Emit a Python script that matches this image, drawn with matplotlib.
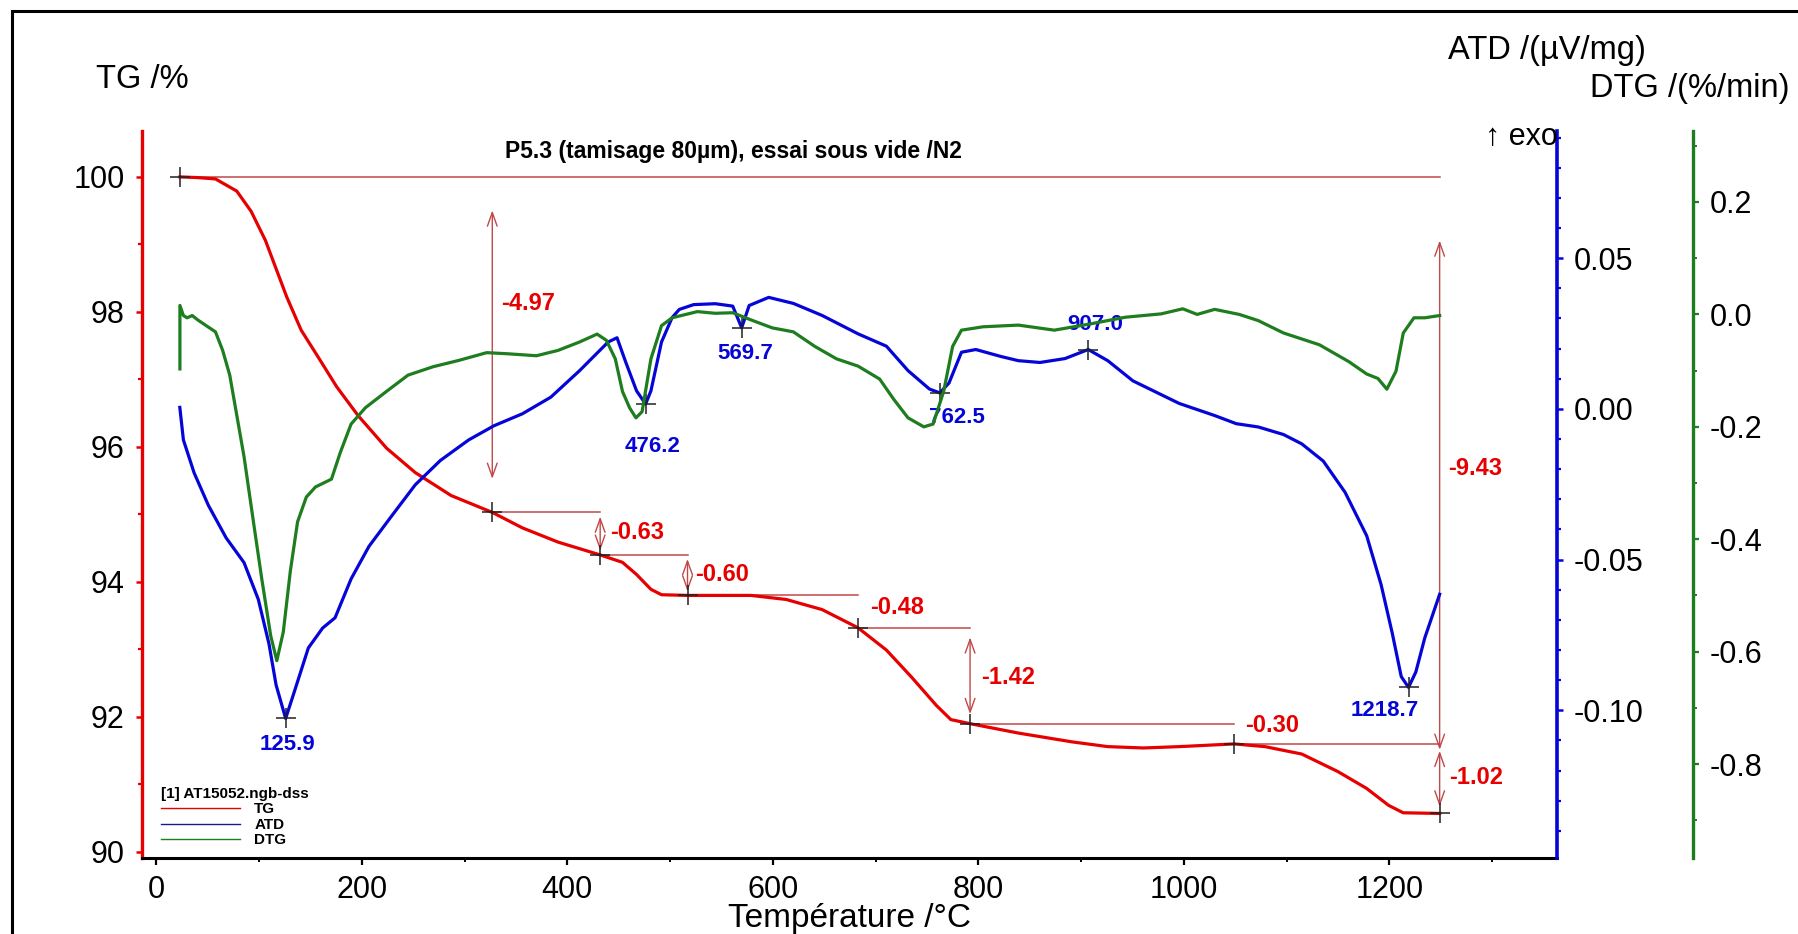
import matplotlib.pyplot as plt
from matplotlib.lines import Line2D
from matplotlib.patches import Rectangle
from matplotlib.ticker import MultipleLocator, FuncFormatter

plt.rcParams['font.family'] = ['Liberation Sans', 'DejaVu Sans']
plt.rcParams['axes.unicode_minus'] = False

# TG curve (%)
tg_temp = [23, 40, 57.6, 78.3, 92.3, 106.2, 116.6, 127, 141, 158.4, 175.6, 196.6, 224.2, 252,
           286.9, 327, 356.4, 391, 432, 453.7, 467.4, 481.4, 491.7, 517, 578.7, 613, 648, 683,
           710.6, 735, 759.2, 773.3, 792, 839.3, 891.4, 926, 960.6, 995.6, 1049, 1079, 1114.8,
           1150, 1178, 1199.3, 1213.5, 1249]
tg_val = [100.0, 99.99, 99.97, 99.79, 99.49, 99.06, 98.64, 98.22, 97.73, 97.31, 96.89, 96.46,
          95.98, 95.62, 95.28, 95.03, 94.80, 94.59, 94.40, 94.29, 94.11, 93.89, 93.81, 93.80,
          93.80, 93.74, 93.59, 93.32, 92.99, 92.59, 92.17, 91.96, 91.90, 91.76, 91.63, 91.56,
          91.54, 91.56, 91.60, 91.56, 91.45, 91.19, 90.94, 90.69, 90.58, 90.57]

# ATD curve (uV/mg)
atd_temp = [22.9, 26.4, 36.8, 50.7, 68, 85.4, 99.3, 109.7, 116.6, 125.9, 134, 148, 161.9, 174,
            189.6, 207, 227.8, 252, 276.5, 304, 328.6, 356.4, 384, 412, 439.8, 448.4, 457, 467.4,
            476.2, 481.4, 491.7, 502, 509, 523, 544, 561, 569.7, 577, 596, 620, 648, 683, 710.6,
            731.6, 752.4, 762.5, 771.5, 783.6, 797.6, 821.9, 839, 860, 884.4, 907, 926, 950.5,
            995.6, 1030, 1051, 1072.5, 1097, 1114.8, 1135.7, 1157, 1178, 1192, 1202.8, 1211.6,
            1218.7, 1225.8, 1234.5, 1249]
atd_val = [0.0005, -0.0103, -0.0212, -0.032, -0.0428, -0.051, -0.0632, -0.078, -0.0916, -0.1027,
           -0.0942, -0.0793, -0.0727, -0.0693, -0.0564, -0.0456, -0.0361, -0.0252, -0.0171,
           -0.0103, -0.0056, -0.0016, 0.0039, 0.0127, 0.0222, 0.0236, 0.0154, 0.006, 0.0016,
           0.006, 0.0222, 0.0303, 0.0330, 0.0346, 0.0349, 0.0341, 0.0269, 0.0343, 0.037, 0.035,
           0.031, 0.0249, 0.0208, 0.0127, 0.0066, 0.0053, 0.0086, 0.0188, 0.0197, 0.0174, 0.016,
           0.0154, 0.0167, 0.0197, 0.016, 0.0093, 0.0018, -0.0022, -0.0049, -0.006, -0.0085,
           -0.0116, -0.0173, -0.0277, -0.0421, -0.0583, -0.0743, -0.0888, -0.0924, -0.0873,
           -0.076, -0.0615]

# DTG curve (%/min)
dtg_temp = [23, 23, 26.4, 29.9, 35, 40.3, 49, 57.6, 64.6, 71.5, 78.4, 85.4, 94, 102.7, 111.4,
            117.3, 123.6, 130.5, 137.5, 146, 154.9, 170.5, 179, 189.6, 203.5, 224, 245, 269.5,
            294, 321.6, 342, 370, 391, 412, 429, 438, 446.7, 453.7, 460.6, 466.8, 472.8, 481.4,
            491.7, 502, 526.6, 544, 561, 578.7, 599.6, 620, 641, 662, 683, 704, 717.7, 731.6,
            747, 756, 766.3, 775, 783.6, 804.6, 839, 874, 908.7, 943, 978, 999, 1013, 1030,
            1054, 1072.5, 1097, 1132, 1160.6, 1178, 1189, 1197.6, 1206.5, 1213.6, 1224, 1234.6,
            1249]
dtg_val = [-0.097, 0.016, -0.002, -0.006, -0.002, -0.0097, -0.0205, -0.031, -0.064, -0.108,
           -0.180, -0.253, -0.362, -0.471, -0.572, -0.616, -0.565, -0.456, -0.369, -0.325,
           -0.307, -0.293, -0.246, -0.195, -0.166, -0.137, -0.108, -0.093, -0.082, -0.068,
           -0.070, -0.0735, -0.064, -0.049, -0.035, -0.046, -0.079, -0.137, -0.166, -0.184,
           -0.173, -0.079, -0.020, -0.006, 0.005, 0.002, 0.003, -0.0097, -0.024, -0.031,
           -0.057, -0.079, -0.092, -0.115, -0.151, -0.184, -0.200, -0.195, -0.137, -0.057,
           -0.028, -0.022, -0.019, -0.028, -0.017, -0.005, 0.001, 0.010, 0.000, 0.009,
           0.000, -0.011, -0.033, -0.054, -0.084, -0.106, -0.114, -0.133, -0.101, -0.033,
           -0.006, -0.006, -0.002]

# mass loss steps on TG
step_temp = [23, 327, 432, 517, 683, 792, 1049, 1249]
step_tg = [100.0, 95.03, 94.40, 93.80, 93.32, 91.90, 91.60, 90.57]
step_text = ['-4.97', '-0.63', '-0.60', '-0.48', '-1.42', '-0.30', '-1.02']
step_text_pos = [(335.5, 98.13), (441.5, 94.73), (524.8, 94.11), (695, 93.62),
                 (803, 92.59), (1060, 91.88), (1258, 91.10)]
step_arrow = [True, True, True, False, True, False, True]
total_text = '-9.43'
total_text_pos = (1257.5, 95.68)

# ATD peaks
peak_temp = [125.9, 476.2, 569.7, 762.5, 907.0, 1218.7]
peak_atd = [-0.1027, 0.0016, 0.0269, 0.0053, 0.0197, -0.0924]
peak_text_pos = [(128, -0.1115), (483, -0.0126), (573.5, 0.0184), (779.6, -0.0029),
                 (914, 0.0279), (1195.8, -0.1001)]

red = '#e60000'
blue = '#0505d8'
green = '#1e7d1e'
note = '#c04848'

W, H = 1798, 934
fig = plt.figure(figsize=(W / 100, H / 100), dpi=100)
ax = fig.add_axes([142 / W, 1 - 858 / H, 1415 / W, 727 / H])
ax2 = ax.twinx()
ax3 = ax.twinx()

ax.set_xlim(-13.9, 1363.2)
ax.set_ylim(89.91, 100.68)
ax2.set_ylim(-0.149, 0.0922)
ax3.set_ylim(-0.967, 0.3263)

ax.plot(tg_temp, tg_val, color=red, lw=2.3, zorder=3)
ax2.plot(atd_temp, atd_val, color=blue, lw=2.3)
ax3.plot(dtg_temp, dtg_val, color=green, lw=2.3)

# steps
ax.plot([step_temp[0], step_temp[-1]], [step_tg[0], step_tg[0]], color=note, lw=1.1, zorder=2)
for i in range(1, len(step_temp) - 1):
    ax.plot([step_temp[i], step_temp[i + 1]], [step_tg[i], step_tg[i]], color=note, lw=1.1,
            zorder=2)
for i in range(len(step_text)):
    x = step_temp[i + 1]
    y0, y1 = step_tg[i], step_tg[i + 1]
    d = 0.1 * (y0 - y1)
    if step_arrow[i]:
        ax.annotate('', xy=(x, y1 + d), xytext=(x, y0 - d),
                    arrowprops=dict(arrowstyle='<->,head_length=0.7,head_width=0.25',
                                    color=note, lw=1.0, shrinkA=0, shrinkB=0,
                                    mutation_scale=14))
    ax.text(step_text_pos[i][0], step_text_pos[i][1], step_text[i], color=red,
            fontsize=17, fontweight='bold', ha='left', va='center')
d = 0.1 * (step_tg[0] - step_tg[-1])
ax.annotate('', xy=(step_temp[-1], step_tg[-1] + d), xytext=(step_temp[-1], step_tg[0] - d),
            arrowprops=dict(arrowstyle='<->,head_length=0.7,head_width=0.25', color=note,
                            lw=1.0, shrinkA=0, shrinkB=0, mutation_scale=14))
ax.text(total_text_pos[0], total_text_pos[1], total_text, color=red, fontsize=17,
        fontweight='bold', ha='left', va='center')
ax.plot(step_temp, step_tg, ls='none', marker='+', ms=14, mew=1.1, color='#202020', zorder=4)

ax.text(562, 100.37, 'P5.3 (tamisage 80µm), essai sous vide /N2', fontsize=16.5,
        fontweight='bold', ha='center', va='center')

# ATD peaks
ax2.plot(peak_temp, peak_atd, ls='none', marker='+', ms=14, mew=1.1, color='#202020')
for t, (px, py) in zip(peak_temp, peak_text_pos):
    ax2.text(px, py, f'{t:.1f}', color=blue, fontsize=16, fontweight='bold',
             ha='center', va='center')

# axes styling
for s in ['top', 'right']:
    ax.spines[s].set_visible(False)
ax.spines['left'].set_color(red)
ax.spines['left'].set_linewidth(2.4)
ax.spines['bottom'].set_linewidth(2.2)
for a in (ax2, ax3):
    for s in ['top', 'left', 'bottom']:
        a.spines[s].set_visible(False)
ax2.spines['right'].set_color(blue)
ax2.spines['right'].set_linewidth(2.6)
ax3.spines['right'].set_color(green)
ax3.spines['right'].set_linewidth(2.4)
ax3.spines['right'].set_position(('axes', 1.0961))

ax.xaxis.set_major_locator(MultipleLocator(200))
ax.xaxis.set_minor_locator(MultipleLocator(100))
ax.yaxis.set_major_locator(MultipleLocator(2))
ax.yaxis.set_minor_locator(MultipleLocator(1))
ax2.yaxis.set_major_locator(MultipleLocator(0.05))
ax2.yaxis.set_minor_locator(MultipleLocator(0.01))
ax2.yaxis.set_major_formatter(FuncFormatter(lambda v, p: f'{round(v, 4) + 0:.2f}'))
ax3.yaxis.set_major_locator(MultipleLocator(0.2))
ax3.yaxis.set_minor_locator(MultipleLocator(0.1))
ax3.yaxis.set_major_formatter(FuncFormatter(lambda v, p: f'{round(v, 4) + 0:.1f}'))

ax.tick_params(axis='x', which='major', direction='out', length=5, width=1.6, labelsize=22,
               pad=7)
ax.tick_params(axis='x', which='minor', direction='out', length=3, width=1.4)
ax.tick_params(axis='y', which='major', direction='out', length=4.5, width=1.8, color=red,
               labelsize=22, pad=8)
ax.tick_params(axis='y', which='minor', direction='out', length=3, width=1.6, color=red)
ax2.tick_params(axis='y', which='major', direction='out', length=4, width=1.8, color=blue,
                labelsize=22, pad=8)
ax2.tick_params(axis='y', which='minor', direction='out', length=3, width=1.6, color=blue)
ax3.tick_params(axis='y', which='major', direction='out', length=4, width=1.6, color=green,
                labelsize=22, pad=8)
ax3.tick_params(axis='y', which='minor', direction='out', length=3, width=1.4, color=green)

# axis titles
fig.text(142 / W, 1 - 80 / H, 'TG /%', fontsize=23.5, ha='center', va='center')
fig.text(1547 / W, 1 - 50 / H, 'ATD /(µV/mg)', fontsize=23.5, ha='center', va='center')
fig.text(1789 / W, 1 - 88 / H, 'DTG /(%/min)', fontsize=23.5, ha='right', va='center')
fig.text(849 / W, 1 - 919 / H, 'Température /°C', fontsize=24, ha='center', va='center')
fig.text(1558 / W, 1 - 137 / H, '↑ exo', fontsize=22, ha='right', va='center')

# legend
narrow = ['Liberation Sans Narrow', 'Liberation Sans', 'DejaVu Sans']
handles = [Line2D([], [], color=red, lw=1), Line2D([], [], color='#1a1a90', lw=1),
           Line2D([], [], color='#1e7d1e', lw=1)]
leg = ax.legend(handles, ['TG', 'ATD', 'DTG'], title='[1] AT15052.ngb-dss', loc='lower left',
                bbox_to_anchor=(0.008, 0.004), frameon=False, handlelength=5.2,
                handletextpad=0.9, labelspacing=0.1, borderpad=0, alignment='left',
                prop={'family': narrow, 'weight': 'bold', 'size': 11},
                title_fontproperties={'family': narrow, 'weight': 'bold', 'size': 11})

# outer frame
fig.add_artist(Rectangle((12 / W, -0.05), 1.2, 1 - 11 / H + 0.05, transform=fig.transFigure,
                         fill=False, ec='black', lw=2.2))

fig.savefig('out.png', dpi=100)
